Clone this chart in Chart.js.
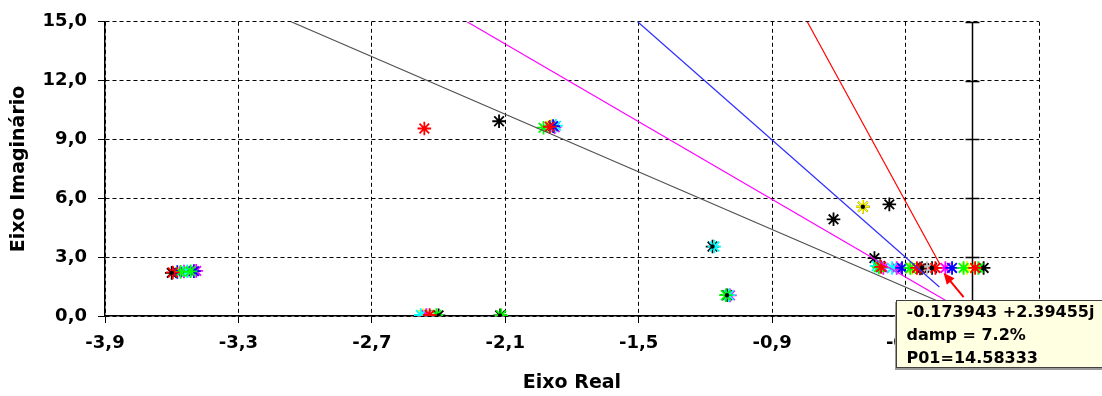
<!DOCTYPE html>
<html>
<head>
<meta charset="utf-8">
<title>Lugar das raizes</title>
<style>
    body { margin: 0; background: #fff; }
</style>
<script src="https://cdn.jsdelivr.net/npm/chart.js"></script>
</head>
<body>
<canvas id="locus" width="1102" height="396"></canvas>

<script>
    // tick values on both axes
    const xTicks = [-3.9, -3.3, -2.7, -2.1, -1.5, -0.9, -0.3, 0.3];
    const yTicks = [0, 3, 6, 9, 12, 15];

    // eigenvalues, one list per marker colour: [real, imag]
    const blackPts = [[-3.600, 2.20], [-2.400, 0.03], [-2.123, 0.03], [-2.128, 9.93], [-1.168, 3.54],
        [-1.103, 1.06], [-0.624, 4.93], [-0.492, 5.57], [-0.373, 5.69], [-0.440, 2.95],
        [-0.226, 2.45], [-0.181, 2.45], [0.051, 2.45]];
    const redPts = [[-3.595, 2.22], [-2.440, 0.05], [-2.464, 9.56], [-1.900, 9.65],
        [-0.410, 2.50], [-0.249, 2.45], [-0.166, 2.45], [0.013, 2.45]];
    const greenPts = [[-3.560, 2.25], [-3.515, 2.28], [-2.410, 0.05], [-2.118, 0.03], [-1.928, 9.60],
        [-1.108, 1.06], [-0.420, 2.48], [-0.279, 2.45], [-0.039, 2.45], [0.027, 2.45]];
    const bluePts = [[-3.575, 2.24], [-3.500, 2.29], [-1.885, 9.68], [-0.316, 2.45], [-0.091, 2.45]];
    const cyanPts = [[-3.530, 2.28], [-2.480, 0.05], [-1.872, 9.70], [-1.160, 3.54], [-1.095, 1.06],
        [-0.430, 2.55], [-0.361, 2.45]];
    const magentaPts = [[-3.545, 2.27], [-3.490, 2.30], [-2.455, 0.05], [-1.878, 9.62], [-1.090, 1.05],
        [-0.400, 2.45], [-0.340, 2.45], [-0.121, 2.45]];
    const yellowPts = [[-2.468, 0.05], [-1.893, 9.70], [-0.492, 5.57], [-0.270, 2.45], [-0.024, 2.45]];
    const darkRedPts = [[-0.414, 2.55], [-0.235, 2.42]];
    const greyPts = [[-0.204, 2.45]];

    // constant damping lines (5, 10, 15, 20 %): upper end and lower end
    const damp05 = [[-0.742, 15], [-0.147, 2.66]];
    const damp10 = [[-1.505, 15], [-0.148, 1.48]];
    const damp15 = [[-2.272, 15], [-0.100, 0.66]];
    const damp20 = [[-3.063, 15], [-0.135, 0.66]];

    // highlighted eigenvalue and its callout text
    const selected = [-0.173943, 2.39455];
    const selectedText = ['-0.173943 +2.39455j', 'damp = 7.2%', 'P01=14.58333'];

    const toXY = pts => pts.map(p => ({x: p[0], y: p[1]}));
    const fmt = v => v.toFixed(1).replace('.', ',');

    function stars(data, color, order) {
        return {
            data: toXY(data),
            pointStyle: 'star',
            pointRadius: 6.8,
            pointHoverRadius: 6.8,
            pointBorderWidth: 1.8,
            borderColor: color,
            backgroundColor: color,
            showLine: false,
            order: order
        };
    }

    function dampLine(data, color) {
        return {
            data: toXY(data),
            showLine: true,
            borderColor: color,
            borderWidth: 1.2,
            pointRadius: 0,
            order: 1
        };
    }

    // vertical imaginary axis at real = 0, with small cross ticks
    const zeroAxis = {
        id: 'zeroAxis',
        beforeDatasetsDraw(chart) {
            const {ctx, scales: {x, y}} = chart;
            const px = Math.round(x.getPixelForValue(0)) + 0.5;
            ctx.save();
            ctx.strokeStyle = '#000';
            ctx.lineWidth = 1.5;
            ctx.beginPath();
            ctx.moveTo(px, y.getPixelForValue(yTicks[0]));
            ctx.lineTo(px, y.getPixelForValue(yTicks[yTicks.length - 1]));
            yTicks.forEach(v => {
                const py = Math.round(y.getPixelForValue(v)) + 0.5;
                ctx.moveTo(px - 7, py);
                ctx.lineTo(px + 7, py);
            });
            ctx.stroke();
            ctx.restore();
        }
    };

    // yellow hint box with red arrow pointing at the selected eigenvalue
    const callout = {
        id: 'callout',
        afterDraw(chart) {
            const {ctx, scales: {x, y}} = chart;
            const px = x.getPixelForValue(selected[0]);
            const py = y.getPixelForValue(selected[1]);
            const bx = Math.round(px - 38) + 0.5;
            const by = Math.round(py + 31) + 0.5;
            ctx.save();
            // arrow
            const tx = px + 10, ty = py + 4, sx = px + 30, sy = py + 28;
            const ang = Math.atan2(ty - sy, tx - sx);
            ctx.strokeStyle = '#ff0000';
            ctx.fillStyle = '#ff0000';
            ctx.lineWidth = 2;
            ctx.beginPath();
            ctx.moveTo(sx, sy);
            ctx.lineTo(tx - 6 * Math.cos(ang), ty - 6 * Math.sin(ang));
            ctx.stroke();
            ctx.beginPath();
            ctx.moveTo(tx, ty);
            ctx.lineTo(tx - 11 * Math.cos(ang) + 5 * Math.sin(ang), ty - 11 * Math.sin(ang) - 5 * Math.cos(ang));
            ctx.lineTo(tx - 11 * Math.cos(ang) - 5 * Math.sin(ang), ty - 11 * Math.sin(ang) + 5 * Math.cos(ang));
            ctx.closePath();
            ctx.fill();
            // box with a thin shadow
            ctx.fillStyle = '#9a9a9a';
            ctx.fillRect(bx - 1.5, by + 1.5, 232, 68);
            ctx.fillStyle = '#ffffe1';
            ctx.fillRect(bx, by, 230, 67);
            ctx.strokeStyle = '#404040';
            ctx.lineWidth = 1;
            ctx.strokeRect(bx, by, 230, 67);
            ctx.fillStyle = '#000';
            ctx.font = 'bold 16px "DejaVu Sans"';
            ctx.textBaseline = 'middle';
            selectedText.forEach((t, i) => ctx.fillText(t, bx + 10, by + 12 + i * 23));
            ctx.restore();
        }
    };

    const tickFont = {family: 'DejaVu Sans', size: 18, weight: 'bold'};
    const titleFont = {family: 'DejaVu Sans', size: 19, weight: 'bold'};

    new Chart(document.getElementById('locus').getContext('2d'), {
        type: 'scatter',
        data: {
            datasets: [
                stars(blackPts, '#000000', 5),
                stars(darkRedPts, '#800000', 4),
                stars(greyPts, '#c0c0c0', 4),
                stars(redPts, '#ff0000', 3),
                stars(greenPts, '#00ff00', 3),
                stars(bluePts, '#0000ff', 3),
                stars(cyanPts, '#00ffff', 3),
                stars(magentaPts, '#ff00ff', 3),
                stars(yellowPts, '#ffff00', 3),
                // black centre dots of the black markers
                {data: toXY(blackPts), pointStyle: 'circle', pointRadius: 2.2, pointBorderWidth: 0,
                    backgroundColor: '#000', borderColor: '#000', showLine: false, order: 2},
                dampLine(damp05, '#ff0000'),
                dampLine(damp10, '#3030ff'),
                dampLine(damp15, '#ff00ff'),
                dampLine(damp20, '#505050')
            ]
        },
        options: {
            responsive: false,
            animation: false,
            events: [],
            layout: {padding: {top: 19, right: 63, left: 0, bottom: 0}},
            plugins: {legend: {display: false}, tooltip: {enabled: false}},
            scales: {
                x: {
                    type: 'linear',
                    min: -3.9,
                    max: 0.3,
                    afterBuildTicks: s => { s.ticks = xTicks.map(v => ({value: v})); },
                    afterFit: s => { s.height = 80; },
                    grid: {color: '#000', lineWidth: 1, tickLength: 7, tickColor: '#000'},
                    border: {display: true, color: '#000', width: 1.5, dash: [4, 3]},
                    ticks: {color: '#000', font: tickFont, padding: 10, maxRotation: 0, callback: v => fmt(v)},
                    title: {display: true, text: 'Eixo Real', color: '#000', font: titleFont, padding: {top: 0, bottom: 2}}
                },
                y: {
                    type: 'linear',
                    min: 0,
                    max: 15,
                    afterBuildTicks: s => { s.ticks = yTicks.map(v => ({value: v})); },
                    afterFit: s => { s.width = 105; },
                    grid: {color: '#000', lineWidth: 1, tickLength: 7, tickColor: '#000'},
                    border: {display: true, color: '#000', width: 1.5, dash: [4, 3]},
                    ticks: {color: '#000', font: tickFont, padding: 11, callback: v => fmt(v)},
                    title: {display: true, text: 'Eixo Imaginário', color: '#000', font: titleFont, padding: {top: 8, bottom: 0}}
                }
            }
        },
        plugins: [zeroAxis, callout]
    });
</script>
</body>
</html>
